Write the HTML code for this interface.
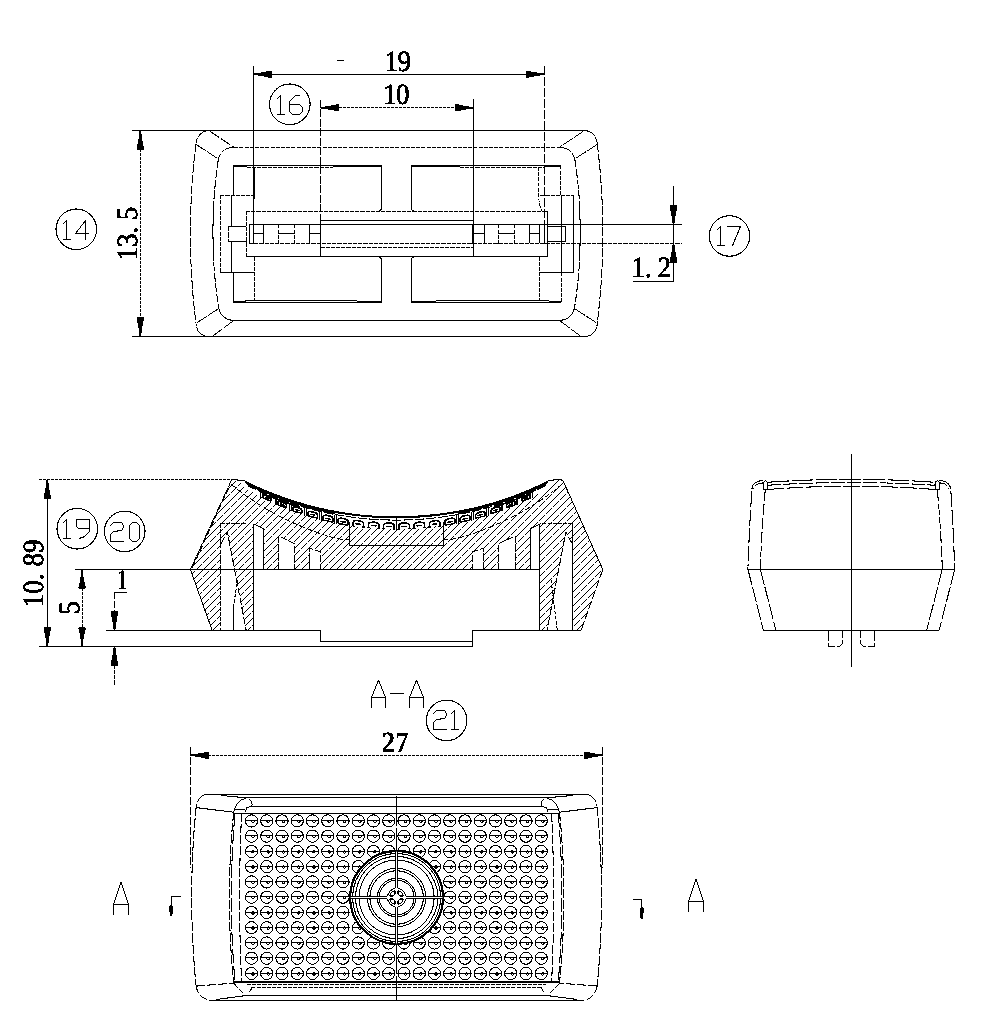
<!DOCTYPE html>
<html><head><meta charset="utf-8"><title>drawing</title>
<style>
html,body{margin:0;padding:0;background:#fff;}
body{width:1006px;height:1028px;overflow:hidden;}
svg{display:block;}
svg text{font-family:"Liberation Serif",serif;fill:#000;stroke:#000;stroke-width:0.55px;}
</style></head><body>
<svg width="1006" height="1028" viewBox="0 0 1006 1028"
 fill="none" stroke="#000" stroke-width="1" shape-rendering="geometricPrecision" text-rendering="geometricPrecision">
<defs><filter id="bin" x="-5%" y="-5%" width="110%" height="110%" color-interpolation-filters="sRGB"><feComponentTransfer><feFuncA type="discrete" tableValues="0 0 1 1 1"/></feComponentTransfer></filter></defs>
<rect x="0" y="0" width="1006" height="1028" fill="#fff" stroke="none"/>
<g filter="url(#bin)">
<line x1="132.4" y1="130.5" x2="582.5" y2="130.5"/>
<line x1="132.4" y1="336.5" x2="587" y2="336.5"/>
<path d="M209.5,130.5 A13.5,13.5 0 0 0 196,143.4" stroke-dasharray="14 1" stroke-width="0.85"/>
<path d="M206.5,336.5 A13.5,13.5 0 0 1 196,323.6" stroke-dasharray="14 1" stroke-width="0.85"/>
<path d="M196,143.4 A726,726 0 0 0 196,323.6" stroke-dasharray="9 1.5" stroke-width="0.85"/>
<line x1="209.5" y1="131" x2="234.3" y2="147.5" stroke-dasharray="12 1.2" stroke-width="0.85"/>
<line x1="196" y1="144.4" x2="218.4" y2="159" stroke-dasharray="12 1.2" stroke-width="0.85"/>
<line x1="212.8" y1="336" x2="233.7" y2="320.5" stroke-dasharray="12 1.2" stroke-width="0.85"/>
<line x1="197" y1="322.6" x2="218.8" y2="308.5" stroke-dasharray="12 1.2" stroke-width="0.85"/>
<path d="M234.3,147.5 A15,15 0 0 0 218.4,159" stroke-dasharray="14 1" stroke-width="0.85"/>
<path d="M218.4,159 A485,485 0 0 0 218.8,308.5" stroke-dasharray="9 1.5 9 1.5 9 1.5 9 1.5 60 1.5 9 1.5 9 1.5 9 1.5 9 1.5" stroke-width="0.85"/>
<path d="M218.8,308.5 A15,15 0 0 0 233.7,320.5" stroke-width="0.85"/>
<path d="M582.5,130.5 A13.5,13.5 0 0 1 597.2,143.4" stroke-dasharray="14 1" stroke-width="0.85"/>
<path d="M587,336.5 A13.5,13.5 0 0 0 597.2,323.6" stroke-dasharray="14 1" stroke-width="0.85"/>
<path d="M597.2,143.4 A726,726 0 0 1 597.2,323.6" stroke-dasharray="9 1.5" stroke-width="0.85"/>
<line x1="583.7" y1="131" x2="558.9" y2="147.5" stroke-dasharray="12 1.2" stroke-width="0.85"/>
<line x1="597.2" y1="144.4" x2="574.8" y2="159" stroke-dasharray="12 1.2" stroke-width="0.85"/>
<line x1="580.4" y1="336" x2="559.5" y2="320.5" stroke-dasharray="12 1.2" stroke-width="0.85"/>
<line x1="596.2" y1="322.6" x2="574.4" y2="308.5" stroke-dasharray="12 1.2" stroke-width="0.85"/>
<path d="M558.9,147.5 A15,15 0 0 1 574.8,159" stroke-dasharray="14 1" stroke-width="0.85"/>
<path d="M574.8,159 A485,485 0 0 1 574.4,308.5" stroke-dasharray="9 1.5 9 1.5 9 1.5 9 1.5 60 1.5 9 1.5 9 1.5 9 1.5 9 1.5" stroke-width="0.85"/>
<path d="M574.4,308.5 A15,15 0 0 1 559.5,320.5" stroke-width="0.85"/>
<line x1="234.3" y1="147.5" x2="558.9" y2="147.5" stroke-dasharray="3.9 1.3"/>
<line x1="233.7" y1="320.5" x2="559.5" y2="320.5"/>
<line x1="246.2" y1="211.5" x2="547.4" y2="211.5" stroke-dasharray="3.9 1.3"/>
<line x1="320.6" y1="220.5" x2="473.6" y2="220.5"/>
<line x1="249.2" y1="224.5" x2="682" y2="224.5"/>
<line x1="249.2" y1="243.5" x2="682" y2="243.5" stroke-dasharray="3.9 1.3"/>
<line x1="320.6" y1="247.5" x2="473.6" y2="247.5" stroke-dasharray="3.9 1.3"/>
<line x1="246.2" y1="256.5" x2="547.4" y2="256.5"/>
<line x1="233.3" y1="166" x2="247" y2="166" stroke-width="2"/>
<line x1="247" y1="167.5" x2="333" y2="167.5" stroke-dasharray="3.9 1.3"/>
<line x1="247" y1="165.5" x2="333" y2="165.5"/>
<line x1="333" y1="166" x2="381.5" y2="166" stroke-width="2"/>
<path d="M381.5,165.5 L381.5,208 Q381.5,211.4 378,211.4" stroke-width="0.85"/>
<line x1="233.5" y1="165.5" x2="233.5" y2="195.3"/>
<line x1="220.4" y1="195.5" x2="253.6" y2="195.5" stroke-dasharray="3.9 1.3"/>
<line x1="254.5" y1="167" x2="254.5" y2="198.5"/>
<line x1="411.3" y1="166" x2="460" y2="166" stroke-width="2"/>
<line x1="460" y1="167.5" x2="545" y2="167.5" stroke-dasharray="3.9 1.3"/>
<line x1="460" y1="165.5" x2="545" y2="165.5"/>
<line x1="545" y1="166" x2="560.3" y2="166" stroke-width="2"/>
<path d="M411.3,165.5 L411.3,208 Q411.3,211.4 415,211.4" stroke-width="0.85"/>
<line x1="560.5" y1="165.5" x2="560.5" y2="195.1" stroke-dasharray="3.9 1.3"/>
<line x1="540.4" y1="195.5" x2="573.2" y2="195.5" stroke-dasharray="3.9 1.3"/>
<path d="M381.5,302 L381.5,260 Q381.5,256.6 378,256.6" stroke-width="0.85"/>
<line x1="233.3" y1="302.5" x2="381.5" y2="302.5"/>
<line x1="245.6" y1="300.5" x2="356.7" y2="300.5"/>
<line x1="233.3" y1="301.5" x2="245.6" y2="301.5"/>
<line x1="356.7" y1="301.5" x2="381.5" y2="301.5"/>
<line x1="233.5" y1="272.3" x2="233.5" y2="302"/>
<line x1="220.4" y1="272.5" x2="254.8" y2="272.5"/>
<line x1="254.5" y1="256.6" x2="254.5" y2="300.4" stroke-dasharray="3.9 1.3"/>
<path d="M411.3,302 L411.3,260 Q411.3,256.6 415,256.6" stroke-width="0.85"/>
<line x1="411.3" y1="302.5" x2="561" y2="302.5"/>
<line x1="435.7" y1="300.5" x2="549" y2="300.5"/>
<line x1="411.3" y1="301.5" x2="435.7" y2="301.5"/>
<line x1="549" y1="301.5" x2="561" y2="301.5"/>
<line x1="561.5" y1="272.5" x2="561.5" y2="302" stroke-dasharray="3.9 1.3"/>
<line x1="539.5" y1="256.6" x2="539.5" y2="300.4" stroke-dasharray="3.9 1.3"/>
<line x1="540" y1="272.5" x2="573" y2="272.5"/>
<line x1="220.5" y1="195.3" x2="220.5" y2="272.3" stroke-dasharray="3.9 1.3"/>
<line x1="231.5" y1="195.3" x2="231.5" y2="226.1"/>
<line x1="231.5" y1="241.6" x2="231.5" y2="272.3"/>
<line x1="228.3" y1="226.5" x2="246.4" y2="226.5"/>
<line x1="228.3" y1="241.5" x2="246.4" y2="241.5"/>
<line x1="228.5" y1="226.1" x2="228.5" y2="241.6" stroke-dasharray="5 1.5"/>
<line x1="246.5" y1="211.4" x2="246.5" y2="256.6" stroke-dasharray="3.9 1.3"/>
<line x1="561.5" y1="195.1" x2="561.5" y2="272.5"/>
<line x1="573.5" y1="195.1" x2="573.5" y2="272.5"/>
<path d="M538.4,167 L538.4,193 Q539,206 542,211.4" stroke-dasharray="3.9 1.3" stroke-width="0.85"/>
<line x1="547.5" y1="211.4" x2="547.5" y2="256.6"/>
<path d="M547.4,226.5 L565.5,226.5 L565.5,241.5 L547.4,241.5"/>
<line x1="249.5" y1="224.5" x2="249.5" y2="243.3"/>
<line x1="544.5" y1="224.5" x2="544.5" y2="243.3"/>
<line x1="253.5" y1="224.5" x2="253.5" y2="243.3"/>
<line x1="539.5" y1="224.5" x2="539.5" y2="243.3"/>
<line x1="263.5" y1="224.5" x2="263.5" y2="243.3"/>
<line x1="529.5" y1="224.5" x2="529.5" y2="243.3"/>
<line x1="278.5" y1="224.5" x2="278.5" y2="243.3" stroke-dasharray="3.9 1.3"/>
<line x1="514.5" y1="224.5" x2="514.5" y2="243.3" stroke-dasharray="3.9 1.3"/>
<line x1="294.5" y1="224.5" x2="294.5" y2="243.3" stroke-dasharray="3.9 1.3"/>
<line x1="498.5" y1="224.5" x2="498.5" y2="243.3" stroke-dasharray="3.9 1.3"/>
<line x1="309.5" y1="224.5" x2="309.5" y2="243.3"/>
<line x1="484.5" y1="224.5" x2="484.5" y2="243.3"/>
<line x1="320.5" y1="224.5" x2="320.5" y2="243.3"/>
<line x1="472.5" y1="224.5" x2="472.5" y2="243.3"/>
<line x1="253.6" y1="233.5" x2="263.5" y2="233.5"/>
<line x1="539.6" y1="233.5" x2="529.7" y2="233.5"/>
<line x1="278.4" y1="233.5" x2="294.3" y2="233.5"/>
<line x1="514.8" y1="233.5" x2="498.9" y2="233.5"/>
<line x1="309.2" y1="233.5" x2="320.6" y2="233.5"/>
<line x1="484" y1="233.5" x2="472.6" y2="233.5"/>
<line x1="320.5" y1="99.7" x2="320.5" y2="220.5" stroke-dasharray="8 1.5"/>
<line x1="320.5" y1="220.5" x2="320.5" y2="256.6"/>
<line x1="473.5" y1="98.7" x2="473.5" y2="256.6"/>
<line x1="253.5" y1="66.2" x2="253.5" y2="243.3"/>
<line x1="544.5" y1="66.2" x2="544.5" y2="243.3" stroke-dasharray="9 2"/>
<line x1="253.4" y1="74.5" x2="544.4" y2="74.5"/>
<polygon points="253.4,74.75 254.4,75.3 260.4,75.55 261.4,76.3 265.9,76.6 266.9,77.3 269.4,77.5 269.6,77.8 272,77.8 272,70.8 269.6,70.8 269.4,71.1 266.9,71.3 265.9,72 261.4,72.3 260.4,73.05 254.4,73.3 253.4,73.85" fill="#000" stroke="none"/>
<polygon points="544.4,73.85 543.4,73.3 537.4,73.05 536.4,72.3 531.9,72 530.9,71.3 528.4,71.1 528.2,70.8 525.8,70.8 525.8,77.8 528.2,77.8 528.4,77.5 530.9,77.3 531.9,76.6 536.4,76.3 537.4,75.55 543.4,75.3 544.4,74.75" fill="#000" stroke="none"/>
<line x1="337.4" y1="60.5" x2="344.2" y2="60.5"/>
<line x1="339" y1="107.5" x2="455" y2="107.5" stroke-dasharray="3 1"/>
<polygon points="320.6,108.15 321.6,108.7 327.6,108.95 328.6,109.7 333.1,110 334.1,110.7 336.6,110.9 336.8,111.2 339.2,111.2 339.2,104.2 336.8,104.2 336.6,104.5 334.1,104.7 333.1,105.4 328.6,105.7 327.6,106.45 321.6,106.7 320.6,107.25" fill="#000" stroke="none"/>
<polygon points="473.6,107.25 472.6,106.7 466.6,106.45 465.6,105.7 461.1,105.4 460.1,104.7 457.6,104.5 457.4,104.2 455,104.2 455,111.2 457.4,111.2 457.6,110.9 460.1,110.7 461.1,110 465.6,109.7 466.6,108.95 472.6,108.7 473.6,108.15" fill="#000" stroke="none"/>
<line x1="140.5" y1="149" x2="140.5" y2="318" stroke-dasharray="3 1"/>
<polygon points="139.85,131 139.3,132 139.05,138 138.3,139 138,143.5 137.3,144.5 137.1,147 136.8,147.2 136.8,149.6 143.8,149.6 143.8,147.2 143.5,147 143.3,144.5 142.6,143.5 142.3,139 141.55,138 141.3,132 140.75,131" fill="#000" stroke="none"/>
<polygon points="140.75,336 141.3,335 141.55,329 142.3,328 142.6,323.5 143.3,322.5 143.5,320 143.8,319.8 143.8,317.4 136.8,317.4 136.8,319.8 137.1,320 137.3,322.5 138,323.5 138.3,328 139.05,329 139.3,335 139.85,336" fill="#000" stroke="none"/>
<line x1="673.5" y1="186.3" x2="673.5" y2="281.3"/>
<polygon points="673.95,224 674.5,223 674.75,217 675.5,216 675.8,211.5 676.5,210.5 676.7,208 677,207.8 677,205.4 670,205.4 670,207.8 670.3,208 670.5,210.5 671.2,211.5 671.5,216 672.25,217 672.5,223 673.05,224" fill="#000" stroke="none"/>
<polygon points="673.05,243.8 672.5,244.8 672.25,250.8 671.5,251.8 671.2,256.3 670.5,257.3 670.3,259.8 670,260 670,262.4 677,262.4 677,260 676.7,259.8 676.5,257.3 675.8,256.3 675.5,251.8 674.75,250.8 674.5,244.8 673.95,243.8" fill="#000" stroke="none"/>
<line x1="632.8" y1="281.5" x2="673.5" y2="281.5"/>
<circle cx="76.3" cy="229.3" r="20.3"/>
<path transform="translate(63.5,220.5)" d="M0,3 L3,0 L3,19 M0,19 L7,19"/>
<path transform="translate(75.5,220.5)" d="M10,19 L10,0 L0,13 L13,13"/>
<circle cx="289.8" cy="104.3" r="20.3"/>
<path transform="translate(277.5,95.5)" d="M0,3 L3,0 L3,19 M0,19 L7,19"/>
<path transform="translate(289.5,95.5)" d="M10,0 L6,0 L0,6 L0,16 L3,19 L10,19 L13,16 L13,12 L10,9 L0,9"/>
<circle cx="729.5" cy="236" r="20.3"/>
<path transform="translate(717.5,226.5)" d="M0,3 L3,0 L3,19 M0,19 L7,19"/>
<path transform="translate(727.5,226.5)" d="M0,0 L13,0 L5,19"/>
<g fill="#000" stroke="none"><pattern id="hatch" patternUnits="userSpaceOnUse" width="14" height="14"><rect x="2" y="0" width="1" height="1"/><rect x="9" y="0" width="1" height="1"/><rect x="1" y="1" width="1" height="1"/><rect x="8" y="1" width="1" height="1"/><rect x="0" y="2" width="1" height="1"/><rect x="7" y="2" width="1" height="1"/><rect x="13" y="3" width="1" height="1"/><rect x="12" y="4" width="1" height="1"/><rect x="5" y="4" width="1" height="1"/><rect x="11" y="5" width="1" height="1"/><rect x="4" y="5" width="1" height="1"/><rect x="10" y="6" width="1" height="1"/><rect x="3" y="6" width="1" height="1"/><rect x="9" y="7" width="1" height="1"/><rect x="2" y="7" width="1" height="1"/><rect x="8" y="8" width="1" height="1"/><rect x="1" y="8" width="1" height="1"/><rect x="7" y="9" width="1" height="1"/><rect x="0" y="9" width="1" height="1"/><rect x="6" y="10" width="1" height="1"/><rect x="5" y="11" width="1" height="1"/><rect x="12" y="11" width="1" height="1"/><rect x="4" y="12" width="1" height="1"/><rect x="11" y="12" width="1" height="1"/><rect x="3" y="13" width="1" height="1"/><rect x="10" y="13" width="1" height="1"/></pattern></g>
<path d="M190.4,569.5 L231.9,479.3 L240,482.5 L245.3,488.44 L252.87,492.59 L260.43,496.48 L268,500.13 L275.56,503.54 L283.12,506.71 L290.69,509.67 L298.26,512.4 L305.82,514.91 L313.38,517.21 L320.95,519.29 L328.52,521.17 L336.08,522.85 L343.65,524.32 L351.21,525.59 L358.78,526.67 L366.34,527.55 L373.91,528.23 L381.47,528.71 L389.04,529 L396.6,529.1 L404.17,529 L411.73,528.71 L419.3,528.23 L426.86,527.55 L434.43,526.67 L441.99,525.59 L449.56,524.32 L457.12,522.85 L464.69,521.17 L472.25,519.29 L479.82,517.21 L487.38,514.91 L494.95,512.4 L502.51,509.67 L510.08,506.71 L517.64,503.54 L525.21,500.13 L532.77,496.48 L540.34,492.59 L547.9,488.44 L553.2,482.5 L559.7,479.2 L563.7,482.5 L602.8,569.5 L581,630.5 L539.8,630.5 L539.8,524 L530,528.5 L530,569.5 L515.2,569.5 L515.2,535.7 L498.7,543.7 L498.7,569.5 L483.5,569.5 L483.5,548.2 L472.7,551.8 L472.7,569.5 L320.5,569.5 L320.5,551.8 L309.7,548.2 L309.7,569.5 L294.5,569.5 L294.5,543.7 L278,535.7 L278,569.5 L263.2,569.5 L263.2,528.5 L253.4,524 L253.4,630.5 L212.2,630.5Z M227.4,532.1 L220.8,544 L220.8,630.5 L246.2,630.5Z M565.8,532.1 L572.4,544 L572.4,630.5 L547,630.5Z" fill="url(#hatch)" fill-rule="evenodd" stroke="none"/>
<line x1="190.4" y1="569.5" x2="231.9" y2="479.3" stroke-dasharray="14 1.2" stroke-width="0.85"/>
<line x1="190.4" y1="569.5" x2="212.2" y2="630.5" stroke-width="0.85"/>
<line x1="192.5" y1="567.5" x2="230.3" y2="484.5" stroke-dasharray="6 3" stroke-width="0.85"/>
<path d="M547.9,480.98 L558.2,479.2 Q562.7,479.2 563.9,482.5 L602.8,569.5" stroke-width="0.85"/>
<line x1="602.8" y1="569.5" x2="581" y2="630.5" stroke-dasharray="9 2" stroke-width="0.85"/>
<line x1="231.9" y1="479.3" x2="245.3" y2="480.98" stroke-width="0.85"/>
<path d="M245.3,481.88 A340,340 0 0 0 547.9,481.88" stroke-width="1.8"/>
<path d="M247.5,485.66 A340,340 0 0 0 545.7,485.66" stroke-dasharray="10 1.5" stroke-width="0.85"/>
<path d="M247,484.02 A340,340 0 0 0 335,513.07" stroke-width="1.3"/>
<path d="M546.2,484.02 A340,340 0 0 1 458.2,513.07" stroke-width="1.3"/>
<path d="M262,493.52 A340,340 0 0 0 300,507.29" stroke-width="1.1"/>
<path d="M531.2,493.52 A340,340 0 0 1 493.2,507.29" stroke-width="1.1"/>
<path d="M263.03,498.02 L263.03,495.51 C263.54,493.97 270.34,496.77 270.85,498.74 L270.85,501.25" stroke-width="1.5"/>
<line x1="264.72" y1="497.09" x2="269.16" y2="498.92" stroke-width="1.3"/>
<line x1="263.03" y1="498.02" x2="270.85" y2="501.25" stroke-width="1.2"/>
<line x1="260.5" y1="491.88" x2="260.5" y2="497.58" stroke-width="1.1"/>
<line x1="262.5" y1="492.55" x2="262.5" y2="498.25" stroke-width="1.1"/>
<path d="M277.96,504.82 L277.96,501.99 C278.52,500.2 285.84,502.82 286.4,505 L286.4,507.84" stroke-width="1.5"/>
<line x1="279.79" y1="503.63" x2="284.57" y2="505.34" stroke-width="1.3"/>
<line x1="277.96" y1="504.82" x2="286.4" y2="507.84" stroke-width="1.2"/>
<line x1="275.5" y1="498.08" x2="275.5" y2="504.54" stroke-width="1.1"/>
<line x1="276.5" y1="498.71" x2="276.5" y2="505.16" stroke-width="1.1"/>
<path d="M292.93,510.74 L292.93,507.61 C293.52,505.6 301.32,507.98 301.91,510.35 L301.91,513.47" stroke-width="1.5"/>
<line x1="294.88" y1="509.3" x2="299.96" y2="510.85" stroke-width="1.3"/>
<line x1="292.93" y1="510.74" x2="301.91" y2="513.47" stroke-width="1.2"/>
<line x1="289.5" y1="503.5" x2="289.5" y2="510.61" stroke-width="1.1"/>
<line x1="291.5" y1="504.07" x2="291.5" y2="511.18" stroke-width="1.1"/>
<path d="M307.94,515.79 L307.94,512.42 C308.56,510.22 316.76,512.3 317.38,514.82 L317.38,518.2" stroke-width="1.5"/>
<line x1="309.99" y1="514.12" x2="315.33" y2="515.48" stroke-width="1.3"/>
<line x1="307.94" y1="515.79" x2="317.38" y2="518.2" stroke-width="1.2"/>
<line x1="304.5" y1="508.17" x2="304.5" y2="515.84" stroke-width="1.1"/>
<line x1="306.5" y1="508.67" x2="306.5" y2="516.34" stroke-width="1.1"/>
<path d="M322.99,520.01 L322.99,516.43 C323.64,514.06 332.16,515.82 332.81,518.46 L332.81,522.04" stroke-width="1.5"/>
<line x1="325.12" y1="518.13" x2="330.68" y2="519.27" stroke-width="1.3"/>
<line x1="322.99" y1="520.01" x2="332.81" y2="522.04" stroke-width="1.2"/>
<line x1="319.5" y1="512.09" x2="319.5" y2="520.24" stroke-width="1.1"/>
<line x1="321.5" y1="512.52" x2="321.5" y2="520.66" stroke-width="1.1"/>
<path d="M338.08,523.42 L338.08,519.68 C338.74,517.16 347.54,518.56 348.2,521.29 L348.2,525.04" stroke-width="1.5"/>
<line x1="340.27" y1="521.34" x2="346.01" y2="522.25" stroke-width="1.3"/>
<line x1="338.08" y1="523.42" x2="348.2" y2="525.04" stroke-width="1.2"/>
<line x1="334.5" y1="515.3" x2="334.5" y2="523.83" stroke-width="1.1"/>
<line x1="336.5" y1="515.64" x2="336.5" y2="524.16" stroke-width="1.1"/>
<path d="M353.2,526.03 L353.2,522.16 C353.88,519.53 362.88,520.55 363.56,523.33 L363.56,527.2" stroke-width="1.5"/>
<line x1="355.45" y1="523.77" x2="361.31" y2="524.43" stroke-width="1.3"/>
<line x1="351.73" y1="525.87" x2="354.86" y2="526.22" stroke-width="0.85"/>
<line x1="365.03" y1="527.37" x2="361.9" y2="527.02" stroke-width="0.85"/>
<path d="M368.36,527.85 L368.36,523.89 C369.06,521.17 378.18,521.79 378.88,524.61 L378.88,528.56" stroke-width="1.5"/>
<line x1="370.64" y1="525.43" x2="376.6" y2="525.84" stroke-width="1.3"/>
<line x1="366.88" y1="527.75" x2="370.05" y2="527.96" stroke-width="0.85"/>
<line x1="380.36" y1="528.66" x2="377.19" y2="528.45" stroke-width="0.85"/>
<path d="M383.56,528.88 L383.56,524.88 C384.26,522.1 393.46,522.31 394.16,525.12 L394.16,529.12" stroke-width="1.5"/>
<line x1="385.86" y1="526.33" x2="391.86" y2="526.47" stroke-width="1.3"/>
<line x1="382.07" y1="528.84" x2="385.26" y2="528.92" stroke-width="0.85"/>
<line x1="395.65" y1="529.15" x2="392.46" y2="529.08" stroke-width="0.85"/>
<path d="M398.8,529.12 L398.8,525.13 C399.5,522.31 408.7,522.11 409.4,524.89 L409.4,528.89" stroke-width="1.5"/>
<line x1="401.1" y1="526.47" x2="407.1" y2="526.34" stroke-width="1.3"/>
<line x1="397.31" y1="529.15" x2="400.5" y2="529.08" stroke-width="0.85"/>
<line x1="410.89" y1="528.85" x2="407.7" y2="528.93" stroke-width="0.85"/>
<path d="M414.08,528.58 L414.08,524.62 C414.78,521.81 423.9,521.19 424.6,523.92 L424.6,527.87" stroke-width="1.5"/>
<line x1="416.36" y1="525.85" x2="422.32" y2="525.45" stroke-width="1.3"/>
<line x1="412.59" y1="528.67" x2="415.77" y2="528.46" stroke-width="0.85"/>
<line x1="426.09" y1="527.77" x2="422.91" y2="527.98" stroke-width="0.85"/>
<path d="M429.4,527.23 L429.4,523.36 C430.08,520.57 439.08,519.56 439.76,522.19 L439.76,526.07" stroke-width="1.5"/>
<line x1="431.65" y1="524.46" x2="437.51" y2="523.8" stroke-width="1.3"/>
<line x1="427.93" y1="527.4" x2="431.06" y2="527.04" stroke-width="0.85"/>
<line x1="441.23" y1="525.9" x2="438.1" y2="526.25" stroke-width="0.85"/>
<path d="M444.75,525.08 L444.75,521.33 C445.42,518.6 454.22,517.2 454.89,519.72 L454.89,523.47" stroke-width="1.5"/>
<line x1="446.95" y1="522.29" x2="452.69" y2="521.38" stroke-width="1.3"/>
<line x1="444.75" y1="525.08" x2="454.89" y2="523.47" stroke-width="1.2"/>
<line x1="458.5" y1="515.35" x2="458.5" y2="523.88" stroke-width="1.1"/>
<line x1="456.5" y1="515.68" x2="456.5" y2="524.21" stroke-width="1.1"/>
<path d="M460.15,522.09 L460.15,518.51 C460.8,515.87 469.32,514.12 469.97,516.49 L469.97,520.07" stroke-width="1.5"/>
<line x1="462.28" y1="519.33" x2="467.84" y2="518.18" stroke-width="1.3"/>
<line x1="460.15" y1="522.09" x2="469.97" y2="520.07" stroke-width="1.2"/>
<line x1="473.5" y1="512.15" x2="473.5" y2="520.3" stroke-width="1.1"/>
<line x1="471.5" y1="512.57" x2="471.5" y2="520.72" stroke-width="1.1"/>
<path d="M475.58,518.26 L475.58,514.89 C476.2,512.36 484.4,510.28 485.02,512.49 L485.02,515.86" stroke-width="1.5"/>
<line x1="477.63" y1="515.55" x2="482.97" y2="514.19" stroke-width="1.3"/>
<line x1="475.58" y1="518.26" x2="485.02" y2="515.86" stroke-width="1.2"/>
<line x1="488.5" y1="508.23" x2="488.5" y2="515.92" stroke-width="1.1"/>
<line x1="486.5" y1="508.73" x2="486.5" y2="516.41" stroke-width="1.1"/>
<path d="M491.05,513.56 L491.05,510.43 C491.64,508.05 499.44,505.68 500.03,507.69 L500.03,510.82" stroke-width="1.5"/>
<line x1="493" y1="510.93" x2="498.08" y2="509.38" stroke-width="1.3"/>
<line x1="491.05" y1="513.56" x2="500.03" y2="510.82" stroke-width="1.2"/>
<line x1="502.5" y1="503.58" x2="502.5" y2="510.7" stroke-width="1.1"/>
<line x1="501.5" y1="504.15" x2="501.5" y2="511.27" stroke-width="1.1"/>
<path d="M506.55,507.93 L506.55,505.09 C507.11,502.91 514.45,500.29 515.01,502.08 L515.01,504.92" stroke-width="1.5"/>
<line x1="508.39" y1="505.43" x2="513.17" y2="503.73" stroke-width="1.3"/>
<line x1="506.55" y1="507.93" x2="515.01" y2="504.92" stroke-width="1.2"/>
<line x1="517.5" y1="498.17" x2="517.5" y2="504.64" stroke-width="1.1"/>
<line x1="516.5" y1="498.8" x2="516.5" y2="505.26" stroke-width="1.1"/>
<path d="M522.1,501.36 L522.1,498.85 C522.62,496.88 529.42,494.08 529.94,495.62 L529.94,498.13" stroke-width="1.5"/>
<line x1="523.8" y1="499.03" x2="528.24" y2="497.2" stroke-width="1.3"/>
<line x1="522.1" y1="501.36" x2="529.94" y2="498.13" stroke-width="1.2"/>
<line x1="532.5" y1="491.98" x2="532.5" y2="497.69" stroke-width="1.1"/>
<line x1="530.5" y1="492.65" x2="530.5" y2="498.36" stroke-width="1.1"/>
<line x1="396.5" y1="518.5" x2="396.5" y2="529.5"/>
<path d="M231,484 Q262,510 300,525.8 T349.5,539.3" stroke-dasharray="6 2" stroke-width="0.85"/>
<path d="M562.2,484 Q531.2,510 493.2,525.8 T443.7,539.3" stroke-dasharray="6 2" stroke-width="0.85"/>
<path d="M349.5,522 L349.5,545.5 L443.5,545.5 L443.5,522"/>
<line x1="75.2" y1="569.5" x2="539.8" y2="569.5"/>
<line x1="253.5" y1="524" x2="253.5" y2="630.5"/>
<path d="M253.4,524 L263.5,528.5 L263.5,569.5" stroke-width="0.85"/>
<path d="M278.5,569.5 L278.5,535.7 L294.5,543.7 L294.5,569.5" stroke-dasharray="7 2" stroke-width="0.85"/>
<path d="M309.5,569.5 L309.5,548.2 L320.5,551.8 L320.5,569.5" stroke-dasharray="7 2" stroke-width="0.85"/>
<path d="M220.8,544 L227.4,532.1 L246.2,630.5" stroke-dasharray="8 2" stroke-width="0.85"/>
<line x1="220.5" y1="523.7" x2="220.5" y2="630.5" stroke-dasharray="3.9 1.3"/>
<line x1="220.8" y1="523.5" x2="246.2" y2="523.5" stroke-dasharray="3.9 1.3"/>
<line x1="539.5" y1="524" x2="539.5" y2="630.5"/>
<path d="M539.8,524 L530.5,528.5 L530.5,569.5" stroke-width="0.85"/>
<path d="M515.5,569.5 L515.5,535.7 L498.5,543.7 L498.5,569.5" stroke-dasharray="7 2" stroke-width="0.85"/>
<path d="M483.5,569.5 L483.5,548.2 L472.5,551.8 L472.5,569.5" stroke-dasharray="7 2" stroke-width="0.85"/>
<path d="M572.4,544 L565.8,532.1 L547,630.5" stroke-dasharray="8 2" stroke-width="0.85"/>
<line x1="572.5" y1="523.7" x2="572.5" y2="630.5"/>
<line x1="572.4" y1="523.5" x2="539.8" y2="523.5" stroke-dasharray="3.9 1.3"/>
<line x1="233.5" y1="608" x2="233.5" y2="630.5"/>
<line x1="233.3" y1="608" x2="237.6" y2="579.5" stroke-dasharray="3.9 1.3" stroke-width="0.85"/>
<line x1="551" y1="579.5" x2="557.3" y2="630.5" stroke-dasharray="3.9 1.3" stroke-width="0.85"/>
<line x1="106.2" y1="630.5" x2="320.5" y2="630.5"/>
<line x1="320.5" y1="630.5" x2="320.5" y2="641.5"/>
<line x1="320.5" y1="641.5" x2="472.7" y2="641.5"/>
<line x1="472.5" y1="641.5" x2="472.5" y2="630.5"/>
<line x1="472.7" y1="630.5" x2="581" y2="630.5"/>
<line x1="39.4" y1="646.5" x2="472.7" y2="646.5"/>
<line x1="472.5" y1="641.5" x2="472.5" y2="646.5"/>
<line x1="39.4" y1="479.5" x2="233" y2="479.5" stroke-dasharray="3 1"/>
<line x1="47.5" y1="479.4" x2="47.5" y2="646.5"/>
<polygon points="46.85,480 46.3,481 46.05,487 45.3,488 45,492.5 44.3,493.5 44.1,496 43.8,496.2 43.8,498.6 50.8,498.6 50.8,496.2 50.5,496 50.3,493.5 49.6,492.5 49.3,488 48.55,487 48.3,481 47.75,480" fill="#000" stroke="none"/>
<polygon points="47.75,646 48.3,645 48.55,639 49.3,638 49.6,633.5 50.3,632.5 50.5,630 50.8,629.8 50.8,627.4 43.8,627.4 43.8,629.8 44.1,630 44.3,632.5 45,633.5 45.3,638 46.05,639 46.3,645 46.85,646" fill="#000" stroke="none"/>
<line x1="82.5" y1="588" x2="82.5" y2="628" stroke-dasharray="3 1"/>
<polygon points="81.65,570 81.1,571 80.85,577 80.1,578 79.8,582.5 79.1,583.5 78.9,586 78.6,586.2 78.6,588.6 85.6,588.6 85.6,586.2 85.3,586 85.1,583.5 84.4,582.5 84.1,578 83.35,577 83.1,571 82.55,570" fill="#000" stroke="none"/>
<polygon points="82.55,646 83.1,645 83.35,639 84.1,638 84.4,633.5 85.1,632.5 85.3,630 85.6,629.8 85.6,627.4 78.6,627.4 78.6,629.8 78.9,630 79.1,632.5 79.8,633.5 80.1,638 80.85,639 81.1,645 81.65,646" fill="#000" stroke="none"/>
<line x1="114.5" y1="592.2" x2="114.5" y2="612" stroke-dasharray="7 2"/>
<line x1="114.4" y1="592.5" x2="127.4" y2="592.5"/>
<polygon points="114.85,630 115.4,629 115.65,623 116.4,622 116.7,617.5 117.4,616.5 117.6,614 117.9,613.8 117.9,611.4 110.9,611.4 110.9,613.8 111.2,614 111.4,616.5 112.1,617.5 112.4,622 113.15,623 113.4,629 113.95,630" fill="#000" stroke="none"/>
<polygon points="113.95,647 113.4,648 113.15,654 112.4,655 112.1,659.5 111.4,660.5 111.2,663 110.9,663.2 110.9,665.6 117.9,665.6 117.9,663.2 117.6,663 117.4,660.5 116.7,659.5 116.4,655 115.65,654 115.4,648 114.85,647" fill="#000" stroke="none"/>
<line x1="114.5" y1="665" x2="114.5" y2="685" stroke-dasharray="3.9 1.3"/>
<circle cx="77.3" cy="528.7" r="20.3"/>
<path transform="translate(63.5,519.5)" d="M0,3 L3,0 L3,19 M0,19 L7,19"/>
<path transform="translate(76.5,519.5)" d="M13,9 L2,9 L0,7 L0,0 L13,0 L13,12 L8,17 L3,19"/>
<circle cx="124.7" cy="531.4" r="20.3"/>
<path transform="translate(110.5,522.5)" d="M0,3 L3,0 L11,0 L13,3 L13,5 L11,8 L3,9 L0,12 L0,19 L13,19"/>
<path transform="translate(129.5,522.5)" d="M3,0 L7,0 L10,3 L10,16 L7,19 L3,19 L0,16 L0,3 Z"/>
<line x1="851.5" y1="453.7" x2="851.5" y2="666.6"/>
<line x1="747.9" y1="569.5" x2="954.9" y2="569.5"/>
<line x1="763.5" y1="630.5" x2="938.9" y2="630.5"/>
<path d="M763.3,480.4 Q752.6,481 751.9,488.9 Q749.2,530 747.9,569.2" stroke-dasharray="16 2" stroke-width="0.85"/>
<path d="M763.3,482.8 Q754.5,483.2 753.6,489.5" stroke-dasharray="9 2" stroke-width="0.85"/>
<line x1="747.9" y1="569.2" x2="763.5" y2="630.6" stroke-dasharray="16 2" stroke-width="0.85"/>
<path d="M765.3,489.5 Q761.6,530 760.3,569.2" stroke-dasharray="12 2" stroke-width="0.85"/>
<line x1="760.3" y1="569.2" x2="776" y2="630.6" stroke-dasharray="16 2" stroke-width="0.85"/>
<path d="M763.4,489.5 L763.4,482 Q765.4,479.6 767.4,482 L767.4,489.5 Z" stroke-width="0.85"/>
<path d="M939.3,480.4 Q950,481 950.7,488.9 Q953.4,530 954.7,569.2" stroke-dasharray="16 2" stroke-width="0.85"/>
<path d="M939.3,482.8 Q948.1,483.2 949,489.5" stroke-dasharray="9 2" stroke-width="0.85"/>
<line x1="954.7" y1="569.2" x2="939.1" y2="630.6" stroke-dasharray="16 2" stroke-width="0.85"/>
<path d="M937.3,489.5 Q941,530 942.3,569.2" stroke-dasharray="12 2" stroke-width="0.85"/>
<line x1="942.3" y1="569.2" x2="926.6" y2="630.6" stroke-dasharray="16 2" stroke-width="0.85"/>
<path d="M939.2,489.5 L939.2,482 Q937.2,479.6 935.2,482 L935.2,489.5 Z" stroke-width="0.85"/>
<path d="M767.4,482.3 Q851.3,476.3 935.2,482.3" stroke-dasharray="22 2" stroke-width="0.85"/>
<path d="M767.4,485.3 Q851.3,479.7 935.2,485.3" stroke-dasharray="14 2" stroke-width="0.85"/>
<path d="M767.4,489.5 Q851.3,482.9 935.2,489.5" stroke-dasharray="17 2" stroke-width="0.85"/>
<path d="M828.5,630.6 L828.5,646.5 L838,646.5 Q842.5,646 842.5,641 L842.5,630.6" stroke-dasharray="10 2" stroke-width="0.85"/>
<path d="M874.5,630.6 L874.5,646.5 L865,646.5 Q860.5,646 860.5,641 L860.5,630.6" stroke-dasharray="10 2" stroke-width="0.85"/>
<line x1="190.5" y1="747" x2="190.5" y2="868" stroke-dasharray="8 2"/>
<line x1="602.5" y1="747" x2="602.5" y2="868" stroke-dasharray="8 2"/>
<line x1="208" y1="755.5" x2="585.2" y2="755.5" stroke-dasharray="3 1"/>
<polygon points="190.5,755.65 191.5,756.2 197.5,756.45 198.5,757.2 203,757.5 204,758.2 206.5,758.4 206.7,758.7 209.1,758.7 209.1,751.7 206.7,751.7 206.5,752 204,752.2 203,752.9 198.5,753.2 197.5,753.95 191.5,754.2 190.5,754.75" fill="#000" stroke="none"/>
<polygon points="602.7,754.75 601.7,754.2 595.7,753.95 594.7,753.2 590.2,752.9 589.2,752.2 586.7,752 586.5,751.7 584.1,751.7 584.1,758.7 586.5,758.7 586.7,758.4 589.2,758.2 590.2,757.5 594.7,757.2 595.7,756.45 601.7,756.2 602.7,755.65" fill="#000" stroke="none"/>
<line x1="205.6" y1="794.5" x2="587.6" y2="794.5"/>
<line x1="209.8" y1="1000.5" x2="583.4" y2="1000.5"/>
<path d="M205.4,794.5 Q197.6,797 196.2,806.5" stroke-dasharray="12 1.2" stroke-width="0.85"/>
<path d="M196.2,806.5 A900,900 0 0 0 196.1,986" stroke-dasharray="10 1.5" stroke-width="0.85"/>
<path d="M196.1,986 Q198,998 209.8,1000.4" stroke-dasharray="8 2" stroke-width="0.85"/>
<line x1="196.7" y1="807.7" x2="233.7" y2="812.2" stroke-width="0.85"/>
<line x1="196.1" y1="986.1" x2="233.7" y2="983.1" stroke-dasharray="9 2" stroke-width="0.85"/>
<line x1="220.6" y1="795.4" x2="246.8" y2="797.9" stroke-width="0.85"/>
<line x1="245.6" y1="995.6" x2="216" y2="999.5" stroke-width="0.85"/>
<path d="M246,798.3 Q236.5,800 233.7,812.2" stroke-width="0.85"/>
<path d="M249,799 Q252.5,801 252.2,805 Q250,807.5 246.8,807.5 L245,812.5" stroke-width="0.85"/>
<line x1="234.3" y1="809.5" x2="245" y2="809.5"/>
<path d="M233.7,983.1 Q240,990 245.6,995.6" stroke-dasharray="6 2" stroke-width="0.85"/>
<path d="M251.5,987.6 Q251.5,991 246,995.6" stroke-dasharray="6 2" stroke-width="0.85"/>
<path d="M233.7,812.2 Q225,897.5 233.7,983.1" stroke-dasharray="9 2" stroke-width="0.85"/>
<path d="M235,813.2 Q227.6,897.5 235,982" stroke-dasharray="14 3" stroke-width="0.85"/>
<path d="M241.6,813.2 Q237.6,897.5 241.6,982" stroke-dasharray="9 2" stroke-width="0.85"/>
<path d="M587.8,794.5 Q595.6,797 597,806.5" stroke-dasharray="12 1.2" stroke-width="0.85"/>
<path d="M597,806.5 A900,900 0 0 1 597.1,986" stroke-dasharray="10 1.5" stroke-width="0.85"/>
<path d="M597.1,986 Q595.2,998 583.4,1000.4" stroke-dasharray="8 2" stroke-width="0.85"/>
<line x1="596.5" y1="807.7" x2="559.5" y2="812.2" stroke-width="0.85"/>
<line x1="597.1" y1="986.1" x2="559.5" y2="983.1" stroke-dasharray="9 2" stroke-width="0.85"/>
<line x1="572.6" y1="795.4" x2="546.4" y2="797.9" stroke-width="0.85"/>
<line x1="547.6" y1="995.6" x2="577.2" y2="999.5" stroke-width="0.85"/>
<path d="M547.2,798.3 Q556.7,800 559.5,812.2" stroke-width="0.85"/>
<path d="M544.2,799 Q540.7,801 541,805 Q543.2,807.5 546.4,807.5 L548.2,812.5" stroke-width="0.85"/>
<line x1="558.9" y1="809.5" x2="548.2" y2="809.5"/>
<path d="M559.5,983.1 Q553.2,990 547.6,995.6" stroke-dasharray="6 2" stroke-width="0.85"/>
<path d="M541.7,987.6 Q541.7,991 547.2,995.6" stroke-dasharray="6 2" stroke-width="0.85"/>
<path d="M559.5,812.2 Q568.2,897.5 559.5,983.1" stroke-dasharray="9 2" stroke-width="0.85"/>
<path d="M558.2,813.2 Q565.6,897.5 558.2,982" stroke-dasharray="14 3" stroke-width="0.85"/>
<path d="M551.6,813.2 Q555.6,897.5 551.6,982" stroke-dasharray="9 2" stroke-width="0.85"/>
<line x1="246" y1="797.5" x2="547.2" y2="797.5"/>
<line x1="251.6" y1="806.5" x2="541.6" y2="806.5"/>
<line x1="233.7" y1="813.5" x2="559.5" y2="813.5"/>
<line x1="233.7" y1="981.5" x2="559.5" y2="981.5"/>
<line x1="233.7" y1="982.5" x2="559.5" y2="982.5"/>
<line x1="247" y1="984.5" x2="546.2" y2="984.5" stroke-dasharray="3.9 1.3"/>
<line x1="251.5" y1="987.5" x2="541.7" y2="987.5" stroke-dasharray="3.9 1.3"/>
<line x1="245.6" y1="995.5" x2="547.6" y2="995.5"/>
<g stroke-width="0.9"><circle cx="251.5" cy="820.9" r="6.1"/><path d="M245.4,820.5 h12.2"/><circle cx="253" cy="821.3" r="1.3"/><circle cx="266.75" cy="820.9" r="6.1"/><path d="M260.65,820.5 h12.2"/><circle cx="268.25" cy="821.3" r="1.3"/><circle cx="282" cy="820.9" r="6.1"/><path d="M275.9,820.5 h12.2"/><circle cx="283.5" cy="821.3" r="1.3"/><circle cx="297.25" cy="820.9" r="6.1"/><path d="M291.15,820.5 h12.2"/><circle cx="298.75" cy="821.3" r="1.3"/><circle cx="312.5" cy="820.9" r="6.1"/><path d="M306.4,820.5 h12.2"/><circle cx="314" cy="821.3" r="1.3"/><circle cx="327.75" cy="820.9" r="6.1"/><path d="M321.65,820.5 h12.2"/><circle cx="329.25" cy="821.3" r="1.3"/><circle cx="343" cy="820.9" r="6.1"/><path d="M336.9,820.5 h12.2"/><circle cx="344.5" cy="821.3" r="1.3"/><circle cx="358.25" cy="820.9" r="6.1"/><path d="M352.15,820.5 h12.2"/><circle cx="359.75" cy="821.3" r="1.3"/><circle cx="373.5" cy="820.9" r="6.1"/><path d="M367.4,820.5 h12.2"/><circle cx="375" cy="821.3" r="1.3"/><circle cx="388.75" cy="820.9" r="6.1"/><path d="M382.65,820.5 h12.2"/><circle cx="390.25" cy="821.3" r="1.3"/><circle cx="404" cy="820.9" r="6.1"/><path d="M397.9,820.5 h12.2"/><circle cx="405.5" cy="821.3" r="1.3"/><circle cx="419.25" cy="820.9" r="6.1"/><path d="M413.15,820.5 h12.2"/><circle cx="420.75" cy="821.3" r="1.3"/><circle cx="434.5" cy="820.9" r="6.1"/><path d="M428.4,820.5 h12.2"/><circle cx="436" cy="821.3" r="1.3"/><circle cx="449.75" cy="820.9" r="6.1"/><path d="M443.65,820.5 h12.2"/><circle cx="451.25" cy="821.3" r="1.3"/><circle cx="465" cy="820.9" r="6.1"/><path d="M458.9,820.5 h12.2"/><circle cx="466.5" cy="821.3" r="1.3"/><circle cx="480.25" cy="820.9" r="6.1"/><path d="M474.15,820.5 h12.2"/><circle cx="481.75" cy="821.3" r="1.3"/><circle cx="495.5" cy="820.9" r="6.1"/><path d="M489.4,820.5 h12.2"/><circle cx="497" cy="821.3" r="1.3"/><circle cx="510.75" cy="820.9" r="6.1"/><path d="M504.65,820.5 h12.2"/><circle cx="512.25" cy="821.3" r="1.3"/><circle cx="526" cy="820.9" r="6.1"/><path d="M519.9,820.5 h12.2"/><circle cx="527.5" cy="821.3" r="1.3"/><circle cx="541.25" cy="820.9" r="6.1"/><path d="M535.15,820.5 h12.2"/><circle cx="542.75" cy="821.3" r="1.3"/><circle cx="251.5" cy="836.16" r="6.1"/><path d="M245.4,835.5 h12.2"/><circle cx="253" cy="836.56" r="1.3"/><circle cx="266.75" cy="836.16" r="6.1"/><path d="M260.65,835.5 h12.2"/><circle cx="268.25" cy="836.56" r="1.3"/><circle cx="282" cy="836.16" r="6.1"/><path d="M275.9,835.5 h12.2"/><circle cx="283.5" cy="836.56" r="1.3"/><circle cx="297.25" cy="836.16" r="6.1"/><path d="M291.15,835.5 h12.2"/><circle cx="298.75" cy="836.56" r="1.3"/><circle cx="312.5" cy="836.16" r="6.1"/><path d="M306.4,835.5 h12.2"/><circle cx="314" cy="836.56" r="1.3"/><circle cx="327.75" cy="836.16" r="6.1"/><path d="M321.65,835.5 h12.2"/><circle cx="329.25" cy="836.56" r="1.3"/><circle cx="343" cy="836.16" r="6.1"/><path d="M336.9,835.5 h12.2"/><circle cx="344.5" cy="836.56" r="1.3"/><circle cx="358.25" cy="836.16" r="6.1"/><path d="M352.15,835.5 h12.2"/><circle cx="359.75" cy="836.56" r="1.3"/><circle cx="373.5" cy="836.16" r="6.1"/><path d="M367.4,835.5 h12.2"/><circle cx="375" cy="836.56" r="1.3"/><circle cx="388.75" cy="836.16" r="6.1"/><path d="M382.65,835.5 h12.2"/><circle cx="390.25" cy="836.56" r="1.3"/><circle cx="404" cy="836.16" r="6.1"/><path d="M397.9,835.5 h12.2"/><circle cx="405.5" cy="836.56" r="1.3"/><circle cx="419.25" cy="836.16" r="6.1"/><path d="M413.15,835.5 h12.2"/><circle cx="420.75" cy="836.56" r="1.3"/><circle cx="434.5" cy="836.16" r="6.1"/><path d="M428.4,835.5 h12.2"/><circle cx="436" cy="836.56" r="1.3"/><circle cx="449.75" cy="836.16" r="6.1"/><path d="M443.65,835.5 h12.2"/><circle cx="451.25" cy="836.56" r="1.3"/><circle cx="465" cy="836.16" r="6.1"/><path d="M458.9,835.5 h12.2"/><circle cx="466.5" cy="836.56" r="1.3"/><circle cx="480.25" cy="836.16" r="6.1"/><path d="M474.15,835.5 h12.2"/><circle cx="481.75" cy="836.56" r="1.3"/><circle cx="495.5" cy="836.16" r="6.1"/><path d="M489.4,835.5 h12.2"/><circle cx="497" cy="836.56" r="1.3"/><circle cx="510.75" cy="836.16" r="6.1"/><path d="M504.65,835.5 h12.2"/><circle cx="512.25" cy="836.56" r="1.3"/><circle cx="526" cy="836.16" r="6.1"/><path d="M519.9,835.5 h12.2"/><circle cx="527.5" cy="836.56" r="1.3"/><circle cx="541.25" cy="836.16" r="6.1"/><path d="M535.15,835.5 h12.2"/><circle cx="542.75" cy="836.56" r="1.3"/><circle cx="251.5" cy="851.42" r="6.1"/><path d="M245.4,851.5 h12.2"/><circle cx="253" cy="851.82" r="1.3"/><circle cx="266.75" cy="851.42" r="6.1"/><path d="M260.65,851.5 h12.2"/><circle cx="268.25" cy="851.82" r="1.3"/><circle cx="282" cy="851.42" r="6.1"/><path d="M275.9,851.5 h12.2"/><circle cx="283.5" cy="851.82" r="1.3"/><circle cx="297.25" cy="851.42" r="6.1"/><path d="M291.15,851.5 h12.2"/><circle cx="298.75" cy="851.82" r="1.3"/><circle cx="312.5" cy="851.42" r="6.1"/><path d="M306.4,851.5 h12.2"/><circle cx="314" cy="851.82" r="1.3"/><circle cx="327.75" cy="851.42" r="6.1"/><path d="M321.65,851.5 h12.2"/><circle cx="329.25" cy="851.82" r="1.3"/><circle cx="343" cy="851.42" r="6.1"/><path d="M336.9,851.5 h12.2"/><circle cx="344.5" cy="851.82" r="1.3"/><circle cx="358.25" cy="851.42" r="6.1"/><path d="M352.15,851.5 h12.2"/><circle cx="359.75" cy="851.82" r="1.3"/><circle cx="373.5" cy="851.42" r="6.1"/><path d="M367.4,851.5 h12.2"/><circle cx="375" cy="851.82" r="1.3"/><circle cx="388.75" cy="851.42" r="6.1"/><path d="M382.65,851.5 h12.2"/><circle cx="390.25" cy="851.82" r="1.3"/><circle cx="404" cy="851.42" r="6.1"/><path d="M397.9,851.5 h12.2"/><circle cx="405.5" cy="851.82" r="1.3"/><circle cx="419.25" cy="851.42" r="6.1"/><path d="M413.15,851.5 h12.2"/><circle cx="420.75" cy="851.82" r="1.3"/><circle cx="434.5" cy="851.42" r="6.1"/><path d="M428.4,851.5 h12.2"/><circle cx="436" cy="851.82" r="1.3"/><circle cx="449.75" cy="851.42" r="6.1"/><path d="M443.65,851.5 h12.2"/><circle cx="451.25" cy="851.82" r="1.3"/><circle cx="465" cy="851.42" r="6.1"/><path d="M458.9,851.5 h12.2"/><circle cx="466.5" cy="851.82" r="1.3"/><circle cx="480.25" cy="851.42" r="6.1"/><path d="M474.15,851.5 h12.2"/><circle cx="481.75" cy="851.82" r="1.3"/><circle cx="495.5" cy="851.42" r="6.1"/><path d="M489.4,851.5 h12.2"/><circle cx="497" cy="851.82" r="1.3"/><circle cx="510.75" cy="851.42" r="6.1"/><path d="M504.65,851.5 h12.2"/><circle cx="512.25" cy="851.82" r="1.3"/><circle cx="526" cy="851.42" r="6.1"/><path d="M519.9,851.5 h12.2"/><circle cx="527.5" cy="851.82" r="1.3"/><circle cx="541.25" cy="851.42" r="6.1"/><path d="M535.15,851.5 h12.2"/><circle cx="542.75" cy="851.82" r="1.3"/><circle cx="251.5" cy="866.68" r="6.1"/><path d="M245.4,866.5 h12.2"/><circle cx="253" cy="867.08" r="1.3"/><circle cx="266.75" cy="866.68" r="6.1"/><path d="M260.65,866.5 h12.2"/><circle cx="268.25" cy="867.08" r="1.3"/><circle cx="282" cy="866.68" r="6.1"/><path d="M275.9,866.5 h12.2"/><circle cx="283.5" cy="867.08" r="1.3"/><circle cx="297.25" cy="866.68" r="6.1"/><path d="M291.15,866.5 h12.2"/><circle cx="298.75" cy="867.08" r="1.3"/><circle cx="312.5" cy="866.68" r="6.1"/><path d="M306.4,866.5 h12.2"/><circle cx="314" cy="867.08" r="1.3"/><circle cx="327.75" cy="866.68" r="6.1"/><path d="M321.65,866.5 h12.2"/><circle cx="329.25" cy="867.08" r="1.3"/><circle cx="343" cy="866.68" r="6.1"/><path d="M336.9,866.5 h12.2"/><circle cx="344.5" cy="867.08" r="1.3"/><circle cx="358.25" cy="866.68" r="6.1"/><path d="M352.15,866.5 h12.2"/><circle cx="359.75" cy="867.08" r="1.3"/><circle cx="434.5" cy="866.68" r="6.1"/><path d="M428.4,866.5 h12.2"/><circle cx="436" cy="867.08" r="1.3"/><circle cx="449.75" cy="866.68" r="6.1"/><path d="M443.65,866.5 h12.2"/><circle cx="451.25" cy="867.08" r="1.3"/><circle cx="465" cy="866.68" r="6.1"/><path d="M458.9,866.5 h12.2"/><circle cx="466.5" cy="867.08" r="1.3"/><circle cx="480.25" cy="866.68" r="6.1"/><path d="M474.15,866.5 h12.2"/><circle cx="481.75" cy="867.08" r="1.3"/><circle cx="495.5" cy="866.68" r="6.1"/><path d="M489.4,866.5 h12.2"/><circle cx="497" cy="867.08" r="1.3"/><circle cx="510.75" cy="866.68" r="6.1"/><path d="M504.65,866.5 h12.2"/><circle cx="512.25" cy="867.08" r="1.3"/><circle cx="526" cy="866.68" r="6.1"/><path d="M519.9,866.5 h12.2"/><circle cx="527.5" cy="867.08" r="1.3"/><circle cx="541.25" cy="866.68" r="6.1"/><path d="M535.15,866.5 h12.2"/><circle cx="542.75" cy="867.08" r="1.3"/><circle cx="251.5" cy="881.94" r="6.1"/><path d="M245.4,881.5 h12.2"/><circle cx="253" cy="882.34" r="1.3"/><circle cx="266.75" cy="881.94" r="6.1"/><path d="M260.65,881.5 h12.2"/><circle cx="268.25" cy="882.34" r="1.3"/><circle cx="282" cy="881.94" r="6.1"/><path d="M275.9,881.5 h12.2"/><circle cx="283.5" cy="882.34" r="1.3"/><circle cx="297.25" cy="881.94" r="6.1"/><path d="M291.15,881.5 h12.2"/><circle cx="298.75" cy="882.34" r="1.3"/><circle cx="312.5" cy="881.94" r="6.1"/><path d="M306.4,881.5 h12.2"/><circle cx="314" cy="882.34" r="1.3"/><circle cx="327.75" cy="881.94" r="6.1"/><path d="M321.65,881.5 h12.2"/><circle cx="329.25" cy="882.34" r="1.3"/><circle cx="343" cy="881.94" r="6.1"/><path d="M336.9,881.5 h12.2"/><circle cx="344.5" cy="882.34" r="1.3"/><circle cx="358.25" cy="881.94" r="6.1"/><path d="M352.15,881.5 h12.2"/><circle cx="359.75" cy="882.34" r="1.3"/><circle cx="434.5" cy="881.94" r="6.1"/><path d="M428.4,881.5 h12.2"/><circle cx="436" cy="882.34" r="1.3"/><circle cx="449.75" cy="881.94" r="6.1"/><path d="M443.65,881.5 h12.2"/><circle cx="451.25" cy="882.34" r="1.3"/><circle cx="465" cy="881.94" r="6.1"/><path d="M458.9,881.5 h12.2"/><circle cx="466.5" cy="882.34" r="1.3"/><circle cx="480.25" cy="881.94" r="6.1"/><path d="M474.15,881.5 h12.2"/><circle cx="481.75" cy="882.34" r="1.3"/><circle cx="495.5" cy="881.94" r="6.1"/><path d="M489.4,881.5 h12.2"/><circle cx="497" cy="882.34" r="1.3"/><circle cx="510.75" cy="881.94" r="6.1"/><path d="M504.65,881.5 h12.2"/><circle cx="512.25" cy="882.34" r="1.3"/><circle cx="526" cy="881.94" r="6.1"/><path d="M519.9,881.5 h12.2"/><circle cx="527.5" cy="882.34" r="1.3"/><circle cx="541.25" cy="881.94" r="6.1"/><path d="M535.15,881.5 h12.2"/><circle cx="542.75" cy="882.34" r="1.3"/><circle cx="251.5" cy="897.2" r="6.1"/><path d="M245.4,896.5 h12.2"/><circle cx="253" cy="897.6" r="1.3"/><circle cx="266.75" cy="897.2" r="6.1"/><path d="M260.65,896.5 h12.2"/><circle cx="268.25" cy="897.6" r="1.3"/><circle cx="282" cy="897.2" r="6.1"/><path d="M275.9,896.5 h12.2"/><circle cx="283.5" cy="897.6" r="1.3"/><circle cx="297.25" cy="897.2" r="6.1"/><path d="M291.15,896.5 h12.2"/><circle cx="298.75" cy="897.6" r="1.3"/><circle cx="312.5" cy="897.2" r="6.1"/><path d="M306.4,896.5 h12.2"/><circle cx="314" cy="897.6" r="1.3"/><circle cx="327.75" cy="897.2" r="6.1"/><path d="M321.65,896.5 h12.2"/><circle cx="329.25" cy="897.6" r="1.3"/><circle cx="343" cy="897.2" r="6.1"/><path d="M336.9,896.5 h12.2"/><circle cx="344.5" cy="897.6" r="1.3"/><circle cx="449.75" cy="897.2" r="6.1"/><path d="M443.65,896.5 h12.2"/><circle cx="451.25" cy="897.6" r="1.3"/><circle cx="465" cy="897.2" r="6.1"/><path d="M458.9,896.5 h12.2"/><circle cx="466.5" cy="897.6" r="1.3"/><circle cx="480.25" cy="897.2" r="6.1"/><path d="M474.15,896.5 h12.2"/><circle cx="481.75" cy="897.6" r="1.3"/><circle cx="495.5" cy="897.2" r="6.1"/><path d="M489.4,896.5 h12.2"/><circle cx="497" cy="897.6" r="1.3"/><circle cx="510.75" cy="897.2" r="6.1"/><path d="M504.65,896.5 h12.2"/><circle cx="512.25" cy="897.6" r="1.3"/><circle cx="526" cy="897.2" r="6.1"/><path d="M519.9,896.5 h12.2"/><circle cx="527.5" cy="897.6" r="1.3"/><circle cx="541.25" cy="897.2" r="6.1"/><path d="M535.15,896.5 h12.2"/><circle cx="542.75" cy="897.6" r="1.3"/><circle cx="251.5" cy="912.46" r="6.1"/><path d="M245.4,912.5 h12.2"/><circle cx="253" cy="912.86" r="1.3"/><circle cx="266.75" cy="912.46" r="6.1"/><path d="M260.65,912.5 h12.2"/><circle cx="268.25" cy="912.86" r="1.3"/><circle cx="282" cy="912.46" r="6.1"/><path d="M275.9,912.5 h12.2"/><circle cx="283.5" cy="912.86" r="1.3"/><circle cx="297.25" cy="912.46" r="6.1"/><path d="M291.15,912.5 h12.2"/><circle cx="298.75" cy="912.86" r="1.3"/><circle cx="312.5" cy="912.46" r="6.1"/><path d="M306.4,912.5 h12.2"/><circle cx="314" cy="912.86" r="1.3"/><circle cx="327.75" cy="912.46" r="6.1"/><path d="M321.65,912.5 h12.2"/><circle cx="329.25" cy="912.86" r="1.3"/><circle cx="343" cy="912.46" r="6.1"/><path d="M336.9,912.5 h12.2"/><circle cx="344.5" cy="912.86" r="1.3"/><circle cx="358.25" cy="912.46" r="6.1"/><path d="M352.15,912.5 h12.2"/><circle cx="359.75" cy="912.86" r="1.3"/><circle cx="449.75" cy="912.46" r="6.1"/><path d="M443.65,912.5 h12.2"/><circle cx="451.25" cy="912.86" r="1.3"/><circle cx="465" cy="912.46" r="6.1"/><path d="M458.9,912.5 h12.2"/><circle cx="466.5" cy="912.86" r="1.3"/><circle cx="480.25" cy="912.46" r="6.1"/><path d="M474.15,912.5 h12.2"/><circle cx="481.75" cy="912.86" r="1.3"/><circle cx="495.5" cy="912.46" r="6.1"/><path d="M489.4,912.5 h12.2"/><circle cx="497" cy="912.86" r="1.3"/><circle cx="510.75" cy="912.46" r="6.1"/><path d="M504.65,912.5 h12.2"/><circle cx="512.25" cy="912.86" r="1.3"/><circle cx="526" cy="912.46" r="6.1"/><path d="M519.9,912.5 h12.2"/><circle cx="527.5" cy="912.86" r="1.3"/><circle cx="541.25" cy="912.46" r="6.1"/><path d="M535.15,912.5 h12.2"/><circle cx="542.75" cy="912.86" r="1.3"/><circle cx="251.5" cy="927.72" r="6.1"/><path d="M245.4,927.5 h12.2"/><circle cx="253" cy="928.12" r="1.3"/><circle cx="266.75" cy="927.72" r="6.1"/><path d="M260.65,927.5 h12.2"/><circle cx="268.25" cy="928.12" r="1.3"/><circle cx="282" cy="927.72" r="6.1"/><path d="M275.9,927.5 h12.2"/><circle cx="283.5" cy="928.12" r="1.3"/><circle cx="297.25" cy="927.72" r="6.1"/><path d="M291.15,927.5 h12.2"/><circle cx="298.75" cy="928.12" r="1.3"/><circle cx="312.5" cy="927.72" r="6.1"/><path d="M306.4,927.5 h12.2"/><circle cx="314" cy="928.12" r="1.3"/><circle cx="327.75" cy="927.72" r="6.1"/><path d="M321.65,927.5 h12.2"/><circle cx="329.25" cy="928.12" r="1.3"/><circle cx="343" cy="927.72" r="6.1"/><path d="M336.9,927.5 h12.2"/><circle cx="344.5" cy="928.12" r="1.3"/><circle cx="358.25" cy="927.72" r="6.1"/><path d="M352.15,927.5 h12.2"/><circle cx="359.75" cy="928.12" r="1.3"/><circle cx="434.5" cy="927.72" r="6.1"/><path d="M428.4,927.5 h12.2"/><circle cx="436" cy="928.12" r="1.3"/><circle cx="449.75" cy="927.72" r="6.1"/><path d="M443.65,927.5 h12.2"/><circle cx="451.25" cy="928.12" r="1.3"/><circle cx="465" cy="927.72" r="6.1"/><path d="M458.9,927.5 h12.2"/><circle cx="466.5" cy="928.12" r="1.3"/><circle cx="480.25" cy="927.72" r="6.1"/><path d="M474.15,927.5 h12.2"/><circle cx="481.75" cy="928.12" r="1.3"/><circle cx="495.5" cy="927.72" r="6.1"/><path d="M489.4,927.5 h12.2"/><circle cx="497" cy="928.12" r="1.3"/><circle cx="510.75" cy="927.72" r="6.1"/><path d="M504.65,927.5 h12.2"/><circle cx="512.25" cy="928.12" r="1.3"/><circle cx="526" cy="927.72" r="6.1"/><path d="M519.9,927.5 h12.2"/><circle cx="527.5" cy="928.12" r="1.3"/><circle cx="541.25" cy="927.72" r="6.1"/><path d="M535.15,927.5 h12.2"/><circle cx="542.75" cy="928.12" r="1.3"/><circle cx="251.5" cy="942.98" r="6.1"/><path d="M245.4,942.5 h12.2"/><circle cx="253" cy="943.38" r="1.3"/><circle cx="266.75" cy="942.98" r="6.1"/><path d="M260.65,942.5 h12.2"/><circle cx="268.25" cy="943.38" r="1.3"/><circle cx="282" cy="942.98" r="6.1"/><path d="M275.9,942.5 h12.2"/><circle cx="283.5" cy="943.38" r="1.3"/><circle cx="297.25" cy="942.98" r="6.1"/><path d="M291.15,942.5 h12.2"/><circle cx="298.75" cy="943.38" r="1.3"/><circle cx="312.5" cy="942.98" r="6.1"/><path d="M306.4,942.5 h12.2"/><circle cx="314" cy="943.38" r="1.3"/><circle cx="327.75" cy="942.98" r="6.1"/><path d="M321.65,942.5 h12.2"/><circle cx="329.25" cy="943.38" r="1.3"/><circle cx="343" cy="942.98" r="6.1"/><path d="M336.9,942.5 h12.2"/><circle cx="344.5" cy="943.38" r="1.3"/><circle cx="358.25" cy="942.98" r="6.1"/><path d="M352.15,942.5 h12.2"/><circle cx="359.75" cy="943.38" r="1.3"/><circle cx="373.5" cy="942.98" r="6.1"/><path d="M367.4,942.5 h12.2"/><circle cx="375" cy="943.38" r="1.3"/><circle cx="388.75" cy="942.98" r="6.1"/><path d="M382.65,942.5 h12.2"/><circle cx="390.25" cy="943.38" r="1.3"/><circle cx="404" cy="942.98" r="6.1"/><path d="M397.9,942.5 h12.2"/><circle cx="405.5" cy="943.38" r="1.3"/><circle cx="419.25" cy="942.98" r="6.1"/><path d="M413.15,942.5 h12.2"/><circle cx="420.75" cy="943.38" r="1.3"/><circle cx="434.5" cy="942.98" r="6.1"/><path d="M428.4,942.5 h12.2"/><circle cx="436" cy="943.38" r="1.3"/><circle cx="449.75" cy="942.98" r="6.1"/><path d="M443.65,942.5 h12.2"/><circle cx="451.25" cy="943.38" r="1.3"/><circle cx="465" cy="942.98" r="6.1"/><path d="M458.9,942.5 h12.2"/><circle cx="466.5" cy="943.38" r="1.3"/><circle cx="480.25" cy="942.98" r="6.1"/><path d="M474.15,942.5 h12.2"/><circle cx="481.75" cy="943.38" r="1.3"/><circle cx="495.5" cy="942.98" r="6.1"/><path d="M489.4,942.5 h12.2"/><circle cx="497" cy="943.38" r="1.3"/><circle cx="510.75" cy="942.98" r="6.1"/><path d="M504.65,942.5 h12.2"/><circle cx="512.25" cy="943.38" r="1.3"/><circle cx="526" cy="942.98" r="6.1"/><path d="M519.9,942.5 h12.2"/><circle cx="527.5" cy="943.38" r="1.3"/><circle cx="541.25" cy="942.98" r="6.1"/><path d="M535.15,942.5 h12.2"/><circle cx="542.75" cy="943.38" r="1.3"/><circle cx="251.5" cy="958.24" r="6.1"/><path d="M245.4,957.5 h12.2"/><circle cx="253" cy="958.64" r="1.3"/><circle cx="266.75" cy="958.24" r="6.1"/><path d="M260.65,957.5 h12.2"/><circle cx="268.25" cy="958.64" r="1.3"/><circle cx="282" cy="958.24" r="6.1"/><path d="M275.9,957.5 h12.2"/><circle cx="283.5" cy="958.64" r="1.3"/><circle cx="297.25" cy="958.24" r="6.1"/><path d="M291.15,957.5 h12.2"/><circle cx="298.75" cy="958.64" r="1.3"/><circle cx="312.5" cy="958.24" r="6.1"/><path d="M306.4,957.5 h12.2"/><circle cx="314" cy="958.64" r="1.3"/><circle cx="327.75" cy="958.24" r="6.1"/><path d="M321.65,957.5 h12.2"/><circle cx="329.25" cy="958.64" r="1.3"/><circle cx="343" cy="958.24" r="6.1"/><path d="M336.9,957.5 h12.2"/><circle cx="344.5" cy="958.64" r="1.3"/><circle cx="358.25" cy="958.24" r="6.1"/><path d="M352.15,957.5 h12.2"/><circle cx="359.75" cy="958.64" r="1.3"/><circle cx="373.5" cy="958.24" r="6.1"/><path d="M367.4,957.5 h12.2"/><circle cx="375" cy="958.64" r="1.3"/><circle cx="388.75" cy="958.24" r="6.1"/><path d="M382.65,957.5 h12.2"/><circle cx="390.25" cy="958.64" r="1.3"/><circle cx="404" cy="958.24" r="6.1"/><path d="M397.9,957.5 h12.2"/><circle cx="405.5" cy="958.64" r="1.3"/><circle cx="419.25" cy="958.24" r="6.1"/><path d="M413.15,957.5 h12.2"/><circle cx="420.75" cy="958.64" r="1.3"/><circle cx="434.5" cy="958.24" r="6.1"/><path d="M428.4,957.5 h12.2"/><circle cx="436" cy="958.64" r="1.3"/><circle cx="449.75" cy="958.24" r="6.1"/><path d="M443.65,957.5 h12.2"/><circle cx="451.25" cy="958.64" r="1.3"/><circle cx="465" cy="958.24" r="6.1"/><path d="M458.9,957.5 h12.2"/><circle cx="466.5" cy="958.64" r="1.3"/><circle cx="480.25" cy="958.24" r="6.1"/><path d="M474.15,957.5 h12.2"/><circle cx="481.75" cy="958.64" r="1.3"/><circle cx="495.5" cy="958.24" r="6.1"/><path d="M489.4,957.5 h12.2"/><circle cx="497" cy="958.64" r="1.3"/><circle cx="510.75" cy="958.24" r="6.1"/><path d="M504.65,957.5 h12.2"/><circle cx="512.25" cy="958.64" r="1.3"/><circle cx="526" cy="958.24" r="6.1"/><path d="M519.9,957.5 h12.2"/><circle cx="527.5" cy="958.64" r="1.3"/><circle cx="541.25" cy="958.24" r="6.1"/><path d="M535.15,957.5 h12.2"/><circle cx="542.75" cy="958.64" r="1.3"/><circle cx="251.5" cy="973.5" r="6.1"/><path d="M245.4,973.5 h12.2"/><circle cx="253" cy="973.9" r="1.3"/><circle cx="266.75" cy="973.5" r="6.1"/><path d="M260.65,973.5 h12.2"/><circle cx="268.25" cy="973.9" r="1.3"/><circle cx="282" cy="973.5" r="6.1"/><path d="M275.9,973.5 h12.2"/><circle cx="283.5" cy="973.9" r="1.3"/><circle cx="297.25" cy="973.5" r="6.1"/><path d="M291.15,973.5 h12.2"/><circle cx="298.75" cy="973.9" r="1.3"/><circle cx="312.5" cy="973.5" r="6.1"/><path d="M306.4,973.5 h12.2"/><circle cx="314" cy="973.9" r="1.3"/><circle cx="327.75" cy="973.5" r="6.1"/><path d="M321.65,973.5 h12.2"/><circle cx="329.25" cy="973.9" r="1.3"/><circle cx="343" cy="973.5" r="6.1"/><path d="M336.9,973.5 h12.2"/><circle cx="344.5" cy="973.9" r="1.3"/><circle cx="358.25" cy="973.5" r="6.1"/><path d="M352.15,973.5 h12.2"/><circle cx="359.75" cy="973.9" r="1.3"/><circle cx="373.5" cy="973.5" r="6.1"/><path d="M367.4,973.5 h12.2"/><circle cx="375" cy="973.9" r="1.3"/><circle cx="388.75" cy="973.5" r="6.1"/><path d="M382.65,973.5 h12.2"/><circle cx="390.25" cy="973.9" r="1.3"/><circle cx="404" cy="973.5" r="6.1"/><path d="M397.9,973.5 h12.2"/><circle cx="405.5" cy="973.9" r="1.3"/><circle cx="419.25" cy="973.5" r="6.1"/><path d="M413.15,973.5 h12.2"/><circle cx="420.75" cy="973.9" r="1.3"/><circle cx="434.5" cy="973.5" r="6.1"/><path d="M428.4,973.5 h12.2"/><circle cx="436" cy="973.9" r="1.3"/><circle cx="449.75" cy="973.5" r="6.1"/><path d="M443.65,973.5 h12.2"/><circle cx="451.25" cy="973.9" r="1.3"/><circle cx="465" cy="973.5" r="6.1"/><path d="M458.9,973.5 h12.2"/><circle cx="466.5" cy="973.9" r="1.3"/><circle cx="480.25" cy="973.5" r="6.1"/><path d="M474.15,973.5 h12.2"/><circle cx="481.75" cy="973.9" r="1.3"/><circle cx="495.5" cy="973.5" r="6.1"/><path d="M489.4,973.5 h12.2"/><circle cx="497" cy="973.9" r="1.3"/><circle cx="510.75" cy="973.5" r="6.1"/><path d="M504.65,973.5 h12.2"/><circle cx="512.25" cy="973.9" r="1.3"/><circle cx="526" cy="973.5" r="6.1"/><path d="M519.9,973.5 h12.2"/><circle cx="527.5" cy="973.9" r="1.3"/><circle cx="541.25" cy="973.5" r="6.1"/><path d="M535.15,973.5 h12.2"/><circle cx="542.75" cy="973.9" r="1.3"/></g>
</g>
<circle cx="396.6" cy="897.5" r="46.9" fill="#fff" stroke="none"/>
<g filter="url(#bin)">
<g stroke-width="0.9">
<circle cx="396.6" cy="897.5" r="46.4" stroke-width="2"/>
<circle cx="396.6" cy="897.5" r="44.1"/>
<circle cx="396.6" cy="897.5" r="41.2"/>
<circle cx="396.6" cy="897.5" r="37.6"/>
<circle cx="396.6" cy="897.5" r="29.2"/>
<circle cx="396.6" cy="897.5" r="26.8"/>
<circle cx="396.6" cy="897.5" r="19.3"/>
<circle cx="396.6" cy="897.5" r="17.5"/>
<circle cx="396.6" cy="897.5" r="9.2"/>
</g>
</g>
<rect x="350.7" y="896" width="91.8" height="3" fill="#fff" stroke="none"/>
<rect x="395" y="851.6" width="3" height="91.8" fill="#fff" stroke="none"/>
<g filter="url(#bin)">
<line x1="349.7" y1="896.5" x2="387" y2="896.5"/>
<line x1="395.5" y1="850.6" x2="395.5" y2="887.9"/>
<line x1="406.2" y1="896.5" x2="443.5" y2="896.5"/>
<line x1="395.5" y1="907.1" x2="395.5" y2="944.4"/>
<line x1="349.7" y1="898.5" x2="387" y2="898.5"/>
<line x1="397.5" y1="850.6" x2="397.5" y2="887.9"/>
<line x1="406.2" y1="898.5" x2="443.5" y2="898.5"/>
<line x1="397.5" y1="907.1" x2="397.5" y2="944.4"/>
<path d="M403.54,899 A7.2,7.2 0 0 1 398,904.54 L398.03,900.65 A3.5,3.5 0 0 0 399.65,899.03 Z" stroke-width="0.85"/>
<path d="M395,904.54 A7.2,7.2 0 0 1 389.46,899 L393.35,899.03 A3.5,3.5 0 0 0 394.97,900.65 Z" stroke-width="0.85"/>
<path d="M389.46,896 A7.2,7.2 0 0 1 395,890.46 L394.97,894.35 A3.5,3.5 0 0 0 393.35,895.97 Z" stroke-width="0.85"/>
<path d="M398,890.46 A7.2,7.2 0 0 1 403.54,896 L399.65,895.97 A3.5,3.5 0 0 0 398.03,894.35 Z" stroke-width="0.85"/>
<line x1="396.5" y1="796.4" x2="396.5" y2="850.6" stroke-dasharray="30 2"/>
<line x1="396.5" y1="944.4" x2="396.5" y2="1001" stroke-dasharray="30 2"/>
<path d="M113.5,914.8 L113.5,904.1 L121,882.1 L128.5,904.1 L128.5,914.8 M113.5,904.5 L128.5,904.5" stroke-width="0.85"/>
<path d="M688.5,911.9 L688.5,901.2 L696,879.2 L703.5,901.2 L703.5,911.9 M688.5,901.6 L703.5,901.6" stroke-width="0.85"/>
<path d="M181.3,896.5 L171.5,896.5 L171.5,915.5"/>
<polygon points="169.6,906 172.6,906 171.8,915.5 170.4,915.5" fill="#000"/>
<path d="M632.9,899.5 L641.5,899.5 L641.5,918.4"/>
<polygon points="640.3,908 643.3,908 642.5,918.4 641.1,918.4" fill="#000"/>
<path d="M371.5,707.7 L371.5,697.4 L378.5,679.9 L385.5,697.4 L385.5,707.7 M371.5,697.7 L385.5,697.7" stroke-width="0.85"/>
<path d="M409.5,707.7 L409.5,697.4 L416.5,679.9 L423.5,697.4 L423.5,707.7 M409.5,697.7 L423.5,697.7" stroke-width="0.85"/>
<line x1="390.1" y1="693.5" x2="403.9" y2="693.5"/>
<circle cx="446.6" cy="720.4" r="20.3"/>
<path transform="translate(433.5,710.5)" d="M0,3 L3,0 L11,0 L13,3 L13,5 L11,8 L3,9 L0,12 L0,19 L13,19"/>
<path transform="translate(451.5,710.5)" d="M0,3 L3,0 L3,19 M0,19 L7,19"/>
</g>
<g filter="url(#bin)"><text transform="translate(384.8,70.7) scale(0.92,1)" font-size="29.3">1</text>
<text transform="translate(397.5,70.7) scale(0.92,1)" font-size="29.3">9</text>
<text transform="translate(383,103.9) scale(0.92,1)" font-size="29.3">1</text>
<text transform="translate(396,103.9) scale(0.92,1)" font-size="29.3">0</text>
<text transform="translate(136.8,260.2) rotate(-90) scale(0.92,1)" font-size="29.3">1</text>
<text transform="translate(136.8,246.9) rotate(-90) scale(0.92,1)" font-size="29.3">3</text>
<text transform="translate(136.8,233.6) rotate(-90) scale(0.92,1)" font-size="29.3">.</text>
<text transform="translate(136.8,220.3) rotate(-90) scale(0.92,1)" font-size="29.3">5</text>
<text transform="translate(631.5,277.3) scale(0.92,1)" font-size="29.3">1</text>
<text transform="translate(645,277.3) scale(0.92,1)" font-size="29.3">.</text>
<text transform="translate(657.5,277.3) scale(0.92,1)" font-size="29.3">2</text>
<text transform="translate(43.4,607.3) rotate(-90) scale(0.92,1)" font-size="29.3">1</text>
<text transform="translate(43.4,593.7) rotate(-90) scale(0.92,1)" font-size="29.3">0</text>
<text transform="translate(43.4,580.1) rotate(-90) scale(0.92,1)" font-size="29.3">.</text>
<text transform="translate(43.4,566.5) rotate(-90) scale(0.92,1)" font-size="29.3">8</text>
<text transform="translate(43.4,552.9) rotate(-90) scale(0.92,1)" font-size="29.3">9</text>
<text transform="translate(78.5,614.6) rotate(-90) scale(0.92,1)" font-size="29.3">5</text>
<text transform="translate(116.6,589.2) scale(0.8,1)" font-size="28.5" style="stroke-width:0">1</text>
<text transform="translate(381.8,751.8) scale(0.9,1)" font-size="29.5" font-weight="bold" style="stroke-width:0">2</text>
<text transform="translate(395.2,751.8) scale(0.9,1)" font-size="29.5" font-weight="bold" style="stroke-width:0">7</text></g>
</svg>
</body></html>
